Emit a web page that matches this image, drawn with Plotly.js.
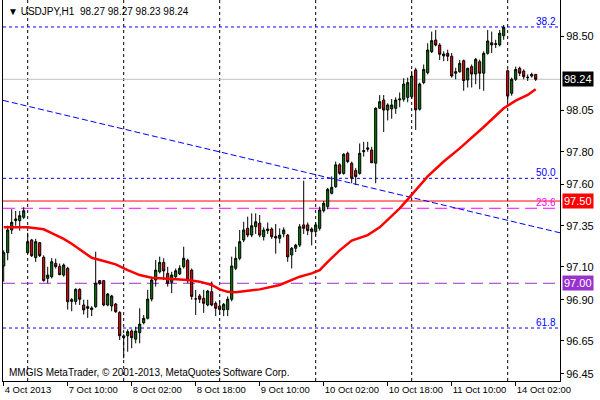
<!DOCTYPE html>
<html>
<head>
<meta charset="utf-8">
<script src="https://cdn.plot.ly/plotly-3.0.1.min.js"></script>
<style>html,body{margin:0;padding:0;background:#fff;}#chart{width:600px;height:400px;}</style>
</head>
<body>
<div id="chart"></div>
<script>
// ---- data (USDJPY H1, 4 Oct 2013 18:00 .. 14 Oct 2013 07:00) ----
const opens = [97.105,97.186,97.324,97.381,97.381,97.401,97.186,97.263,97.156,97.247,
97.158,97.03,97.04,97.121,97.103,97.05,97.091,96.89,96.89,96.963,
96.868,96.858,96.84,96.858,97.016,97.016,96.868,96.862,96.874,96.823,
96.68,96.681,96.71,96.66,96.70,96.76,96.787,96.904,97.02,97.07,
97.127,97.06,97.006,97.04,97.057,97.10,97.14,97.08,96.905,96.923,
96.909,96.868,96.949,96.878,96.862,96.838,96.84,96.903,97.091,97.152,
97.263,97.334,97.293,97.344,97.365,97.283,97.32,97.33,97.285,97.273,
97.30,97.293,97.172,97.213,97.232,97.355,97.355,97.314,97.314,97.334,
97.441,97.466,97.547,97.587,97.72,97.668,97.79,97.73,97.685,97.668,
97.80,97.815,97.81,97.73,98.064,98.114,98.053,98.06,98.064,98.115,
98.118,98.13,98.134,98.297,98.058,98.22,98.28,98.408,98.479,98.448,
98.382,98.398,98.38,98.277,98.286,98.353,98.236,98.317,98.272,98.347,
98.277,98.398,98.462,98.452,98.449,98.505,98.292,98.155,98.24,98.307,
98.29,98.25,98.26,98.27];
const highs = [97.20,97.35,97.45,97.44,97.44,97.462,97.307,97.27,97.27,97.25,
97.17,97.10,97.153,97.15,97.12,97.12,97.10,96.91,96.97,96.97,
96.90,96.90,96.86,97.192,97.02,97.02,96.94,96.93,96.88,96.83,
96.69,96.72,96.72,96.736,96.848,96.807,96.96,97.04,97.142,97.162,
97.152,97.10,97.07,97.09,97.11,97.222,97.15,97.09,96.96,96.935,
96.96,96.96,97.01,96.89,96.893,96.88,96.92,97.162,97.222,97.324,
97.374,97.405,97.425,97.425,97.415,97.34,97.37,97.34,97.36,97.334,
97.34,97.30,97.22,97.24,97.36,97.624,97.37,97.34,97.37,97.466,
97.50,97.58,97.65,97.74,97.73,97.79,97.80,97.74,97.70,97.85,
97.86,97.86,97.83,98.07,98.144,98.144,98.094,98.12,98.13,98.16,
98.246,98.25,98.29,98.31,98.22,98.33,98.459,98.53,98.54,98.46,
98.41,98.42,98.40,98.31,98.357,98.36,98.31,98.33,98.37,98.36,
98.41,98.54,98.53,98.48,98.54,98.57,98.30,98.25,98.317,98.317,
98.30,98.27,98.28,98.27];
const lows = [97.01,97.14,97.30,97.35,97.32,97.39,97.18,97.16,97.13,97.16,
97.01,97.00,97.03,97.09,97.05,97.04,96.84,96.83,96.87,96.868,
96.81,96.79,96.80,96.85,96.99,96.86,96.86,96.83,96.82,96.655,
96.544,96.584,96.605,96.635,96.635,96.75,96.78,96.89,96.98,97.06,
97.02,96.98,96.94,97.03,97.05,97.09,97.00,96.90,96.807,96.88,
96.82,96.86,96.86,96.80,96.807,96.80,96.80,96.89,97.08,97.14,
97.25,97.28,97.28,97.30,97.28,97.26,97.30,97.27,97.18,97.243,
97.28,97.13,97.09,97.19,97.22,97.30,97.293,97.23,97.29,97.32,
97.43,97.45,97.54,97.58,97.66,97.66,97.73,97.608,97.597,97.66,
97.77,97.80,97.73,97.608,98.06,97.92,97.99,98.00,98.03,98.07,
98.104,98.10,98.12,97.932,98.05,98.21,98.27,98.40,98.44,98.357,
98.35,98.35,98.25,98.24,98.28,98.17,98.19,98.19,98.21,98.18,
98.17,98.39,98.40,98.43,98.44,98.48,98.10,98.14,98.23,98.26,
98.24,98.23,98.25,98.23];
const closes = [97.186,97.324,97.371,97.391,97.411,97.441,97.253,97.168,97.253,97.168,
97.016,97.05,97.131,97.101,97.052,97.111,96.888,96.90,96.963,96.903,
96.838,96.848,96.85,97.0,97.0,96.868,96.935,96.923,96.827,96.681,
96.67,96.706,96.669,96.71,96.752,96.787,96.904,97.02,97.08,97.127,
97.075,97.0,97.05,97.076,97.091,97.152,97.02,96.92,96.905,96.903,
96.878,96.953,96.868,96.848,96.84,96.872,96.903,97.105,97.152,97.253,
97.324,97.293,97.35,97.374,97.293,97.324,97.33,97.283,97.275,97.293,
97.324,97.16,97.213,97.232,97.344,97.334,97.32,97.33,97.355,97.446,
97.486,97.571,97.583,97.72,97.668,97.785,97.74,97.638,97.648,97.79,
97.806,97.822,97.733,98.064,98.104,98.053,98.084,98.084,98.114,98.12,
98.211,98.22,98.26,98.054,98.211,98.30,98.418,98.475,98.448,98.392,
98.394,98.38,98.26,98.286,98.337,98.232,98.307,98.272,98.361,98.277,
98.398,98.473,98.449,98.456,98.52,98.556,98.138,98.24,98.30,98.277,
98.256,98.252,98.27,98.24];

// moving average (bar index, price)
const maBar = [0,4,6,8,10,12,15,17,20,22,25,28,31,34,37,40,43,46,49,52,54,56,58,61,64,69,72,74,77,79,81,84,87,91,94,96,99,101,106,110,114,120,125,128,131,133];
const maVal = [97.34,97.34,97.34,97.335,97.328,97.305,97.27,97.24,97.186,97.155,97.135,97.115,97.08,97.05,97.034,97.03,97.026,97.02,97.01,96.99,96.963,96.948,96.945,96.955,96.963,96.99,97.02,97.04,97.06,97.08,97.13,97.20,97.26,97.293,97.34,97.385,97.455,97.51,97.65,97.74,97.82,97.95,98.064,98.11,98.145,98.18];

// chart objects
const trendBar = [0, 133];
const trendPrice = [98.111, 97.342];
const fibLabels = ['38.2', '50.0', '23.6', '61.8'];
const fibPrices = [98.558, 97.638, 97.456, 96.728];
const levelPrices = [98.24, 97.50, 97.00];
const priceTicks = [98.50, 98.05, 97.80, 97.60, 97.35, 97.10, 96.90, 96.65, 96.45];
const titleText = 'USDJPY,H1';
const copyright = 'MMGIS MetaTrader, \u00a9 2001-2013, MetaQuotes Software Corp.';

// ---- bar times (hourly, weekends skipped) ----
const months = ['Jan','Feb','Mar','Apr','May','Jun','Jul','Aug','Sep','Oct','Nov','Dec'];
const times = [];
let tms = Date.UTC(2013, 9, 4, 18);
while (times.length < opens.length) {
  const d = new Date(tms);
  const wd = d.getUTCDay();
  if (wd !== 0 && wd !== 6) times.push(d);
  tms += 3600000;
}
const idx = times.map((_, i) => i);
const pad = n => (n < 10 ? '0' : '') + n;
const tickVals = [], tickText = [];
for (let i = 0; i < times.length; i += 16) {
  const d = times[i];
  tickVals.push(i);
  tickText.push(i === 0 ? d.getUTCDate() + ' ' + months[d.getUTCMonth()] + ' ' + d.getUTCFullYear()
    : d.getUTCDate() + ' ' + months[d.getUTCMonth()] + ' ' + pad(d.getUTCHours()) + ':00');
}
const dayStarts = idx.filter(i => times[i].getUTCHours() === 0);

const xr = [-0.175, 139.075];
const yr = [96.406, 98.722];
const FONT = 'Liberation Sans, Arial, sans-serif';

// trend ray through its two anchor points, clipped to the view
const slope = (trendPrice[1] - trendPrice[0]) / (trendBar[1] - trendBar[0]);
const trendX = [xr[0], xr[1]];
const trendY = trendX.map(x => trendPrice[0] + slope * (x - trendBar[0]));

const traces = [
  {
    type: 'candlestick', x: idx, open: opens, high: highs, low: lows, close: closes,
    increasing: {line: {color: '#000000', width: 1}, fillcolor: '#008000'},
    decreasing: {line: {color: '#000000', width: 1}, fillcolor: '#ff0000'},
    whiskerwidth: 0, hoverinfo: 'skip', showlegend: false
  },
  {
    type: 'scatter', mode: 'lines', x: trendX, y: trendY,
    line: {color: '#0000ff', width: 1, dash: '6px,3px'}, hoverinfo: 'skip', showlegend: false
  },
  {
    type: 'scatter', mode: 'lines', x: maBar, y: maVal, line: {color: '#ff0000', width: 2.5},
    hoverinfo: 'skip', showlegend: false
  }
];

const shapes = [];
dayStarts.forEach(i => shapes.push({type: 'line', xref: 'x', yref: 'paper', x0: i, x1: i, y0: 0, y1: 1,
  line: {color: '#000000', width: 1, dash: '3px,3px'}, layer: 'below'}));
// bid line, red level, purple level
const levelStyles = [
  {color: '#c0c0c0', width: 1, dash: 'solid'},
  {color: '#ff0000', width: 1, dash: 'solid'},
  {color: '#9932cc', width: 1, dash: '12px,6px'}
];
levelPrices.forEach((p, k) => shapes.push({type: 'line', xref: 'paper', yref: 'y', x0: 0, x1: 1, y0: p, y1: p,
  line: levelStyles[k], layer: 'below'}));
const fibColors = ['#0000ff', '#0000ff', '#ff00ff', '#0000ff'];
const fibDash = ['3px,3px', '3px,3px', '12px,6px', '3px,3px'];
fibPrices.forEach((p, k) => shapes.push({type: 'line', xref: 'paper', yref: 'y', x0: 0, x1: 1, y0: p, y1: p,
  line: {color: fibColors[k], width: 1, dash: fibDash[k]}, layer: 'below'}));

const annotations = [];
fibPrices.forEach((p, k) => annotations.push({xref: 'paper', yref: 'y', x: 1, y: p, xanchor: 'right', yanchor: 'bottom',
  xshift: -2, yshift: -2, text: fibLabels[k], showarrow: false, font: {family: FONT, size: 10, color: fibColors[k]}}));
const boxColors = ['#000000', '#ff0000', '#9932cc'];
levelPrices.forEach((p, k) => annotations.push({xref: 'paper', yref: 'y', x: 1, y: p, xanchor: 'left', yanchor: 'middle',
  xshift: 2, text: p.toFixed(2), showarrow: false, bgcolor: boxColors[k], borderpad: 1,
  font: {family: FONT, size: 11, color: '#ffffff'}}));
annotations.push({xref: 'paper', yref: 'paper', x: 0, y: 1, xanchor: 'left', yanchor: 'top', xshift: 3, yshift: -4,
  text: '\u25bc ' + titleText + '\u00a0\u00a0' + [opens[133], highs[133], lows[133], closes[133]].map(v => v.toFixed(2)).join(' '),
  showarrow: false, font: {family: FONT, size: 10, color: '#000000'}});
annotations.push({xref: 'paper', yref: 'paper', x: 0, y: 0, xanchor: 'left', yanchor: 'bottom', xshift: 4, yshift: 1,
  text: copyright, showarrow: false, font: {family: FONT, size: 10, color: '#000000'}});

const layout = {
  width: 600, height: 400,
  margin: {l: 3, r: 40, t: 0, b: 19, pad: 0},
  paper_bgcolor: '#ffffff', plot_bgcolor: '#ffffff',
  showlegend: false, boxgap: 0.25,
  xaxis: {
    range: xr, showgrid: false, zeroline: false, showline: true, linecolor: '#000000', linewidth: 1,
    ticks: 'outside', ticklen: 4, tickcolor: '#000000', tickvals: tickVals, ticktext: tickText,
    tickangle: 0, automargin: false,
    ticklabelposition: 'outside right', tickfont: {family: FONT, size: 9.5, color: '#000000'},
    rangeslider: {visible: false}, fixedrange: true
  },
  yaxis: {
    side: 'right', range: yr, showgrid: false, zeroline: false, showline: true, mirror: true,
    linecolor: '#000000', linewidth: 1, ticks: 'outside', ticklen: 3, tickcolor: '#000000',
    tickvals: priceTicks, ticktext: priceTicks.map(v => v.toFixed(2)), automargin: false,
    tickfont: {family: FONT, size: 11, color: '#000000'}, fixedrange: true
  },
  shapes: shapes, annotations: annotations
};

Plotly.newPlot('chart', traces, layout, {staticPlot: true, displayModeBar: false});
</script>
</body>
</html>
